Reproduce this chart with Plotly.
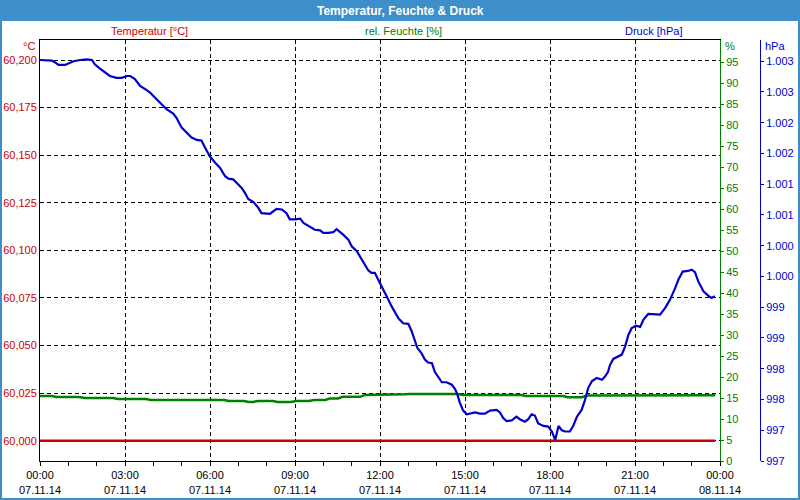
import pandas as pd
import plotly.graph_objects as go

# ---------------- data ----------------
BASE = pd.Timestamp("2014-11-07 00:00")

# temperature [°C]
temp_min = [0, 1430]
temp_c = [60.000, 60.000]

# relative humidity [%]
hum_min = [0, 25, 35, 83, 95, 155, 165, 224, 235, 390,
           400, 432, 442, 451, 461, 493, 503, 532, 542, 570,
           580, 604, 614, 631, 641, 678, 688, 716, 726, 773,
           783, 800, 810, 839, 849, 885, 895, 1019, 1029, 1108,
           1118, 1148, 1158, 1300, 1310, 1430]
hum_pct = [15.5, 15.5, 15.26, 15.26, 15.02, 15.02, 14.79, 14.79, 14.55, 14.55,
           14.31, 14.31, 14.07, 14.07, 14.31, 14.31, 14.07, 14.07, 14.31, 14.31,
           14.55, 14.55, 14.9, 14.9, 15.3, 15.3, 15.75, 15.75, 15.9, 15.9,
           16.0, 16.0, 15.9, 15.9, 16.0, 16.0, 15.75, 15.75, 15.5, 15.5,
           15.2, 15.2, 15.6, 15.6, 15.7, 15.7]

# pressure [hPa]
pres_min = [0, 25, 32, 39, 53, 64, 71, 85, 99, 110,
            116, 127, 141, 148, 162, 173, 184, 191, 201, 212,
            226, 233, 247, 261, 268, 282, 289, 300, 311, 321,
            332, 342, 349, 360, 371, 381, 392, 399, 409, 417,
            427, 434, 441, 452, 462, 469, 487, 501, 512, 522,
            529, 540, 551, 558, 572, 582, 593, 600, 611, 621,
            628, 635, 642, 653, 660, 671, 678, 685, 695, 702,
            709, 716, 724, 734, 745, 752, 759, 769, 780, 787,
            794, 799, 808, 815, 822, 830, 836, 843, 851, 861,
            872, 879, 884, 889, 896, 904, 911, 921, 932, 942,
            953, 967, 974, 981, 988, 999, 1009, 1016, 1027, 1034,
            1041, 1048, 1055, 1066, 1076, 1084, 1091, 1098, 1105, 1112,
            1122, 1129, 1137, 1147, 1154, 1161, 1169, 1179, 1190, 1196,
            1203, 1207, 1214, 1225, 1232, 1239, 1246, 1253, 1262, 1271,
            1278, 1288, 1299, 1313, 1324, 1334, 1345, 1352, 1361, 1372,
            1380, 1387, 1394, 1405, 1415, 1422, 1429]
pres_hpa = [1003.52, 1003.51, 1003.48, 1003.44, 1003.44, 1003.48, 1003.50, 1003.52, 1003.53, 1003.52,
            1003.45, 1003.38, 1003.30, 1003.26, 1003.23, 1003.23, 1003.26, 1003.26, 1003.21, 1003.10,
            1003.03, 1002.99, 1002.88, 1002.77, 1002.72, 1002.65, 1002.58, 1002.42, 1002.34, 1002.26,
            1002.22, 1002.21, 1002.10, 1001.95, 1001.85, 1001.77, 1001.63, 1001.59, 1001.58, 1001.52,
            1001.44, 1001.36, 1001.26, 1001.21, 1001.12, 1001.03, 1001.02, 1001.10, 1001.09, 1001.03,
            1000.93, 1000.93, 1000.94, 1000.87, 1000.81, 1000.76, 1000.75, 1000.71, 1000.71, 1000.72,
            1000.77, 1000.73, 1000.68, 1000.60, 1000.49, 1000.41, 1000.32, 1000.21, 1000.10, 1000.06,
            1000.06, 999.95, 999.84, 999.68, 999.51, 999.41, 999.32, 999.24, 999.23, 999.11,
            998.97, 998.84, 998.75, 998.65, 998.60, 998.59, 998.45, 998.37, 998.28, 998.28,
            998.24, 998.17, 998.08, 997.95, 997.82, 997.76, 997.77, 997.79, 997.77, 997.77,
            997.82, 997.83, 997.79, 997.70, 997.65, 997.66, 997.72, 997.68, 997.64, 997.68,
            997.76, 997.74, 997.61, 997.57, 997.56, 997.48, 997.34, 997.57, 997.50, 997.48,
            997.48, 997.57, 997.72, 997.83, 997.99, 998.19, 998.30, 998.35, 998.32, 998.37,
            998.45, 998.56, 998.66, 998.71, 998.73, 998.86, 999.05, 999.16, 999.20, 999.18,
            999.30, 999.39, 999.39, 999.38, 999.49, 999.62, 999.81, 999.95, 1000.08, 1000.09,
            1000.11, 1000.07, 999.92, 999.76, 999.69, 999.65, 999.68]

# tick labels
x_tick_min = [0, 180, 360, 540, 720, 900, 1080, 1260, 1440]
x_tick_text = ["00:00<br>07.11.14", "03:00<br>07.11.14", "06:00<br>07.11.14",
               "09:00<br>07.11.14", "12:00<br>07.11.14", "15:00<br>07.11.14",
               "18:00<br>07.11.14", "21:00<br>07.11.14", "00:00<br>08.11.14"]
temp_ticks = [60.000, 60.025, 60.050, 60.075, 60.100, 60.125, 60.150, 60.175, 60.200]
temp_tick_text = ["60,000", "60,025", "60,050", "60,075", "60,100",
                  "60,125", "60,150", "60,175", "60,200"]
hum_ticks = [0, 5, 10, 15, 20, 25, 30, 35, 40, 45, 50, 55, 60, 65, 70, 75, 80, 85, 90, 95]
pres_ticks = [997.0, 997.5, 998.0, 998.5, 999.0, 999.5, 1000.0, 1000.5,
              1001.0, 1001.5, 1002.0, 1002.5, 1003.0, 1003.5]
pres_tick_text = ["997", "997", "998", "998", "999", "999", "1.000", "1.000",
                  "1.001", "1.001", "1.002", "1.002", "1.003", "1.003"]


def to_time(mins):
    return [BASE + pd.Timedelta(minutes=m) for m in mins]


# ---------------- layout helpers ----------------
W, H = 800, 500
PL, PR, PT, PB = 40, 720, 40, 461   # plot area in pixels
AX3 = 760                           # pressure axis x pixel
PW = AX3 - PL


def px(x):
    return (x - PL) / PW


def py(y):
    return (PB - y) / (PB - PT)


RED = "#cc0000"
GREEN = "#008000"
BLUE = "#0000cc"
BAR = "#3c8fc9"
FONT = "Liberation Sans"

fig = go.Figure()
fig.add_trace(go.Scatter(x=to_time(temp_min), y=temp_c, mode="lines",
                         line=dict(color=RED, width=2.5), yaxis="y", hoverinfo="skip"))
fig.add_trace(go.Scatter(x=to_time(hum_min), y=hum_pct, mode="lines",
                         line=dict(color=GREEN, width=2.5), yaxis="y2", hoverinfo="skip"))
fig.add_trace(go.Scatter(x=to_time(pres_min), y=pres_hpa, mode="lines",
                         line=dict(color=BLUE, width=2.2), yaxis="y3", hoverinfo="skip"))

grid = dict(showgrid=True, gridcolor="black", gridwidth=1, griddash="4px,3px")

fig.update_layout(
    width=W, height=H,
    margin=dict(l=PL, r=W - AX3, t=PT, b=H - PB, pad=0, autoexpand=False),
    paper_bgcolor="white", plot_bgcolor="white",
    showlegend=False,
    font=dict(family=FONT, size=11, color="black"),
    xaxis=dict(
        domain=[0, (PR - PL) / PW], automargin=False,
        range=[BASE, BASE + pd.Timedelta(minutes=1440)],
        tickmode="array", tickvals=to_time(x_tick_min), ticktext=x_tick_text,
        ticks="outside", ticklen=4, tickcolor="black", tickwidth=1,
        minor=dict(dtick=3600000, tick0=BASE, ticks="outside", ticklen=4,
                   tickcolor="black", showgrid=False),
        showline=True, linecolor="black", linewidth=1, mirror=True,
        zeroline=False, tickfont=dict(color="black", size=11),
        **grid,
    ),
    yaxis=dict(
        range=[59.98934, 60.21051], automargin=False,
        tickmode="array", tickvals=temp_ticks, ticktext=temp_tick_text,
        ticks="", showline=True, linecolor="black", linewidth=1,
        zeroline=False, tickfont=dict(color=RED, size=11),
        **grid,
    ),
    yaxis2=dict(
        overlaying="y", side="right", anchor="x", automargin=False,
        range=[0, 100.4],
        tickmode="array", tickvals=hum_ticks,
        ticks="outside", ticklen=3, tickcolor=GREEN,
        showline=True, linecolor=GREEN, linewidth=1,
        showgrid=False, zeroline=False, tickfont=dict(color=GREEN, size=11),
    ),
    yaxis3=dict(
        overlaying="y", side="right", anchor="free", position=1.0, automargin=False,
        range=[997.0, 1003.845],
        tickmode="array", tickvals=pres_ticks, ticktext=pres_tick_text,
        ticks="outside", ticklen=3, tickcolor=BLUE,
        showline=True, linecolor=BLUE, linewidth=1,
        showgrid=False, zeroline=False, tickfont=dict(color=BLUE, size=11),
    ),
    shapes=[
        dict(type="rect", xref="paper", yref="paper",
             x0=px(0), x1=px(W), y0=py(21), y1=py(0),
             fillcolor=BAR, line=dict(width=0), layer="above"),
        dict(type="rect", xref="paper", yref="paper",
             x0=px(1), x1=px(W - 1), y0=py(H - 1), y1=py(1),
             fillcolor="rgba(0,0,0,0)", line=dict(color=BAR, width=2), layer="above"),
    ],
)

ann = [
    ("Temperatur, Feuchte & Druck", 400, 10.5, "center", "white", 12, True),
    ("Temperatur [°C]", 149, 31, "center", RED, 11, False),
    ("rel. Feuchte [%]", 403, 31, "center", GREEN, 11, False),
    ("Druck [hPa]", 653, 31, "center", BLUE, 11, False),
    ("°C", 37, 46, "right", RED, 11, False),
    ("%", 723, 46, "left", GREEN, 11, False),
    ("hPa", 763, 46, "left", BLUE, 11, False),
]
for text, x, y, anchor, color, size, bold in ann:
    fig.add_annotation(
        text=f"<b>{text}</b>" if bold else text,
        xref="paper", yref="paper", x=px(x), y=py(y),
        xanchor=anchor, yanchor="middle", showarrow=False,
        font=dict(family=FONT, size=size, color=color),
    )

fig.write_html(
    "out.html",
    config={"displayModeBar": False, "staticPlot": True},
    post_script="document.body.style.margin='0px';document.body.style.overflow='hidden';",
)
